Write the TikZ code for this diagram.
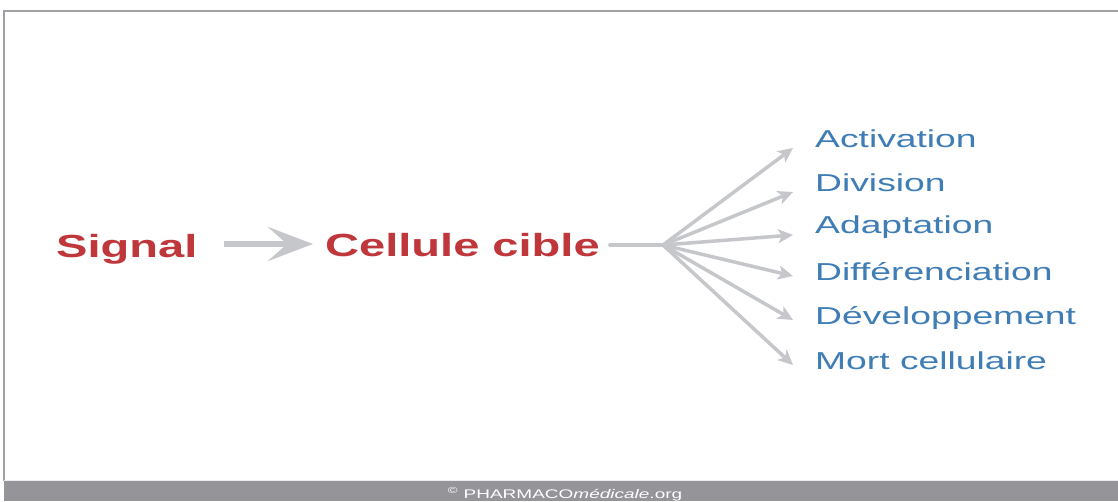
\documentclass[tikz,border=0pt]{standalone}
\usepackage{fontspec}
\setmainfont{Liberation Sans}
\usetikzlibrary{arrows.meta}
\definecolor{sigred}{HTML}{C0373B}
\definecolor{outblue}{HTML}{3F7DB6}
\definecolor{arrgray}{HTML}{C6C7CB}
\definecolor{framegray}{HTML}{A2A2A6}
\definecolor{bargray}{HTML}{949499}
\newcommand{\wideRed}[1]{\scalebox{1.47}[1]{#1}}
\newcommand{\wideBlue}[1]{\scalebox{1.52}[1]{#1}}
\tikzset{
 redlabel/.style={anchor=base west, inner sep=0pt, text=sigred, font=\fontsize{32}{32}\selectfont\bfseries},
 bluelabel/.style={anchor=base west, inner sep=0pt, text=outblue, font=\fontsize{24.5}{24.5}\selectfont},
 mainarrow/.style={draw=arrgray, line width=6pt, -{Stealth[length=45pt,width=34pt,inset=19pt]}},
 fanline/.style={draw=arrgray, line width=3.5pt},
 fanarrow/.style={fanline, -{Stealth[length=15pt,width=14pt,inset=4pt]}},
}
\begin{document}
\begin{tikzpicture}[x=1pt,y=-1pt]
\useasboundingbox (0,0) rectangle (1118,501);
\fill[white] (0,0) rectangle (1118,501);
% frame
\draw[framegray, line width=2pt] (1118,10.5) -- (4,10.5) -- (4,481);
% footer bar
\fill[bargray] (4,481) rectangle (1118,501);
\draw[white!85!gray, line width=1pt] (4,480.5) -- (1118,480.5);
\node[inner sep=0pt, anchor=base, text=white, font=\fontsize{12.5}{12.5}\selectfont] (foot) at (565,498)
  {\wideBlue{\textsuperscript{©} PHARMACO\textit{médicale}.org}};
% main labels
\node[redlabel] (sig) at (56,257) {\wideRed{Signal}};
\node[redlabel] (cel) at (325,256) {\wideRed{Cellule cible}};
\draw[mainarrow] ([shift={(26,-13)}]sig.base east) -- ([shift={(-12,-12)}]cel.base west);
% outcomes
\node[bluelabel] (l1) at (815,147) {\wideBlue{Activation}};
\node[bluelabel] (l2) at (815,191) {\wideBlue{Division}};
\node[bluelabel] (l3) at (815,233) {\wideBlue{Adaptation}};
\node[bluelabel] (l4) at (815,280) {\wideBlue{Différenciation}};
\node[bluelabel] (l5) at (815,324) {\wideBlue{Développement}};
\node[bluelabel] (l6) at (815,369) {\wideBlue{Mort cellulaire}};
\coordinate (hub) at (663,245);
\draw[fanline, line cap=round] ([shift={(10,-11)}]cel.base east) -- (hub);
\foreach \n/\dy in {l1/1, l2/1, l3/2, l4/-4, l5/-4, l6/-4}
  \draw[fanarrow] (hub) -- ([shift={(-22,\dy)}]\n.base west);
\end{tikzpicture}
\end{document}
